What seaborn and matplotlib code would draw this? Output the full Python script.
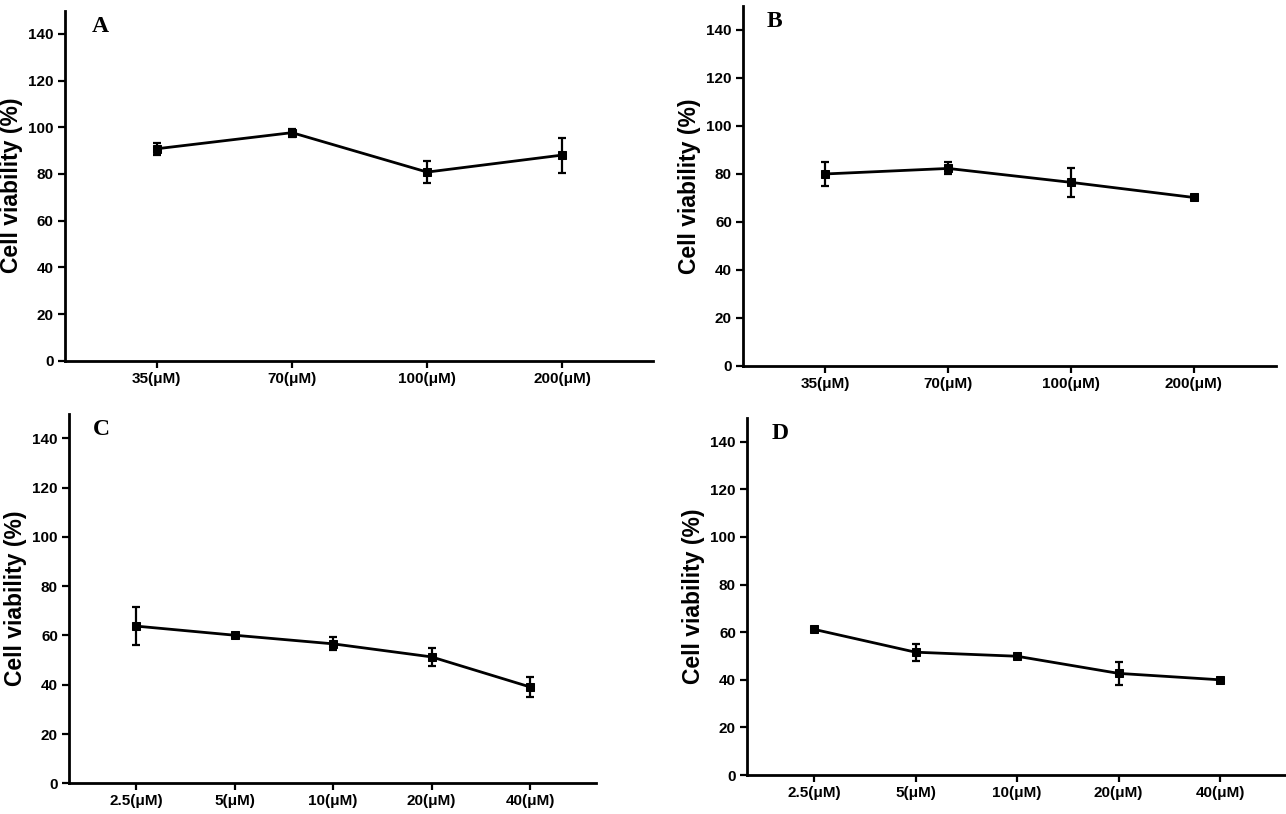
import numpy as np
import pandas as pd
import matplotlib
matplotlib.use("Agg")
import matplotlib.pyplot as plt
import seaborn as sns

# concentraciones
dosis_ab = ["35(μM)", "70(μM)", "100(μM)", "200(μM)"]
dosis_cd = ["2.5(μM)", "5(μM)", "10(μM)", "20(μM)", "40(μM)"]

# viabilidad media y error
via_a = [90.8, 97.7, 80.8, 88.1]
err_a = [2.6, 1.7, 4.6, 7.5]
via_b = [80.0, 82.3, 76.5, 70.2]
err_b = [5.0, 2.5, 6.1, 0.6]
via_c = [63.8, 60.1, 56.6, 51.3, 39.1]
err_c = [7.6, 0.8, 2.7, 3.8, 4.1]
via_d = [61.2, 51.6, 49.9, 42.7, 40.0]
err_d = [0.8, 3.6, 0.9, 4.8, 0.8]

sns.set_style("ticks")
plt.rcParams["font.family"] = ["Liberation Sans Narrow", "Liberation Sans", "DejaVu Sans"]
plt.rcParams["text.color"] = "black"
plt.rcParams["axes.labelcolor"] = "black"
plt.rcParams["xtick.color"] = "black"
plt.rcParams["ytick.color"] = "black"
plt.rcParams["axes.edgecolor"] = "black"

fig = plt.figure(figsize=(12.86, 8.14), dpi=100)

paneles = [
    ("A", dosis_ab, via_a, err_a, [0.0505, 0.5569, 0.4572, 0.4301], (-0.68, 3.67)),
    ("B", dosis_ab, via_b, err_b, [0.5778, 0.5504, 0.4145, 0.4423], (-0.67, 3.67)),
    ("C", dosis_cd, via_c, err_c, [0.0537, 0.0377, 0.4098, 0.4541], (-0.68, 4.67)),
    ("D", dosis_cd, via_d, err_d, [0.5809, 0.0479, 0.4191, 0.4386], (-0.66, 4.65)),
]

for letra, etiquetas, media, error, pos, xlim in paneles:
    ax = fig.add_axes(pos)
    df = pd.DataFrame({"x": np.arange(len(etiquetas)), "y": media})
    sns.lineplot(data=df, x="x", y="y", ax=ax, color="black", linewidth=2,
                 marker="s", markersize=6, markeredgecolor="black")
    ax.errorbar(df["x"], df["y"], yerr=error, fmt="none", ecolor="black",
                elinewidth=1.6, capsize=3.2, capthick=1.6)
    ax.set_xlim(*xlim)
    ax.set_ylim(0, 150)
    ax.set_yticks(range(0, 141, 20))
    ax.set_xticks(range(len(etiquetas)))
    ax.set_xticklabels(etiquetas)
    for t in ax.get_xticklabels() + ax.get_yticklabels():
        t.set_fontweight("bold")
        t.set_fontsize(11)
        t.set_color("black")
    ax.tick_params(axis="both", direction="out", length=5, width=1.6, pad=3)
    ax.set_xlabel("")
    ax.set_ylabel("Cell viability (%)", fontsize=16.5, fontweight="bold", color="black",
                  family=["Liberation Sans", "DejaVu Sans"], labelpad=4)
    for s in ["top", "right"]:
        ax.spines[s].set_visible(False)
    for s in ["left", "bottom"]:
        ax.spines[s].set_linewidth(2)
    ax.text(0.045, 0.985, letra, transform=ax.transAxes, ha="left", va="top",
            fontsize=17, fontweight="bold", family=["Liberation Serif", "DejaVu Serif"])

fig.savefig("out.png", dpi=100, facecolor="white")
